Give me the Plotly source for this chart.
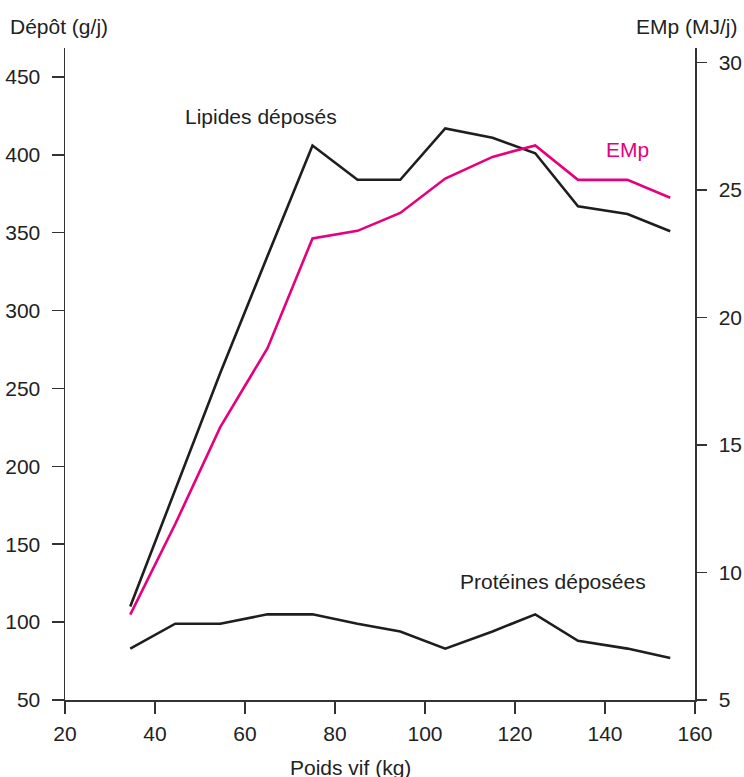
import plotly.graph_objects as go

poids = [34.5, 44.5, 54.5, 65, 75, 85, 94.5, 104.5, 115, 124.5, 134, 145, 154.5]
lipides = [110, 185, 260, 335, 406, 384, 384, 417, 411, 401, 367, 362, 351]
proteines = [83, 99, 99, 105, 105, 99, 94, 83, 94, 105, 88, 83, 77]
emp = [8.35, 11.9, 15.7, 18.8, 23.1, 23.4, 24.1, 25.45, 26.3, 26.75, 25.4, 25.4, 24.7]

FONT = "Liberation Sans, Arial, sans-serif"
TXT = "#222222"
FS = 21

fig = go.Figure()
fig.add_trace(go.Scatter(x=poids, y=lipides, mode="lines",
                         line=dict(color="#1e1e1e", width=2.6), yaxis="y"))
fig.add_trace(go.Scatter(x=poids, y=proteines, mode="lines",
                         line=dict(color="#1e1e1e", width=2.6), yaxis="y"))
fig.add_trace(go.Scatter(x=poids, y=emp, mode="lines",
                         line=dict(color="#e6007e", width=2.6), yaxis="y2"))

fig.update_layout(
    width=744, height=777,
    margin=dict(l=65, r=49, t=48, b=77, autoexpand=False),
    paper_bgcolor="white", plot_bgcolor="white",
    showlegend=False,
    font=dict(family=FONT, size=FS, color=TXT),
    xaxis=dict(range=[20, 160], tickvals=[20, 40, 60, 80, 100, 120, 140, 160],
               showgrid=False, zeroline=False, showline=True, linecolor="#333",
               linewidth=1.5, ticks="outside", ticklen=12, tickwidth=1.5,
               tickcolor="#333", tickfont=dict(size=FS, color=TXT),
               ticklabelstandoff=2),
    yaxis=dict(range=[50, 468.6], tickvals=[50, 100, 150, 200, 250, 300, 350, 400, 450],
               showgrid=False, zeroline=False, showline=True, linecolor="#333",
               linewidth=1.5, ticks="outside", ticklen=12, tickwidth=1.5,
               tickcolor="#333", tickfont=dict(size=FS, color=TXT),
               ticklabelstandoff=7),
    yaxis2=dict(range=[5, 30.57], tickvals=[5, 10, 15, 20, 25, 30],
                overlaying="y", side="right", anchor="x",
                showgrid=False, zeroline=False, showline=True, linecolor="#333",
                linewidth=1.5, ticks="outside", ticklen=10, tickwidth=1.5,
                tickcolor="#333", tickfont=dict(size=FS, color=TXT),
                ticklabelstandoff=8),
)

ann = [
    dict(text="Dépôt (g/j)", xref="paper", yref="paper", x=-0.0905, y=1.033,
         xanchor="left", yanchor="middle"),
    dict(text="EMp (MJ/j)", xref="paper", yref="paper", x=1.0714, y=1.033,
         xanchor="right", yanchor="middle"),
    dict(text="Poids vif (kg)", xref="paper", yref="paper", x=0.453, y=-0.104,
         xanchor="center", yanchor="middle"),
    dict(text="Lipides déposés", xref="x", yref="y", x=63.6, y=424.8,
         xanchor="center", yanchor="middle"),
    dict(text="Protéines déposées", xref="x", yref="y", x=128.5, y=125.8,
         xanchor="center", yanchor="middle"),
    dict(text="EMp", xref="x", yref="y", x=145.1, y=403.2,
         xanchor="center", yanchor="middle", font=dict(color="#e6007e", size=FS, family=FONT)),
]
for a in ann:
    a.setdefault("font", dict(size=FS, color=TXT, family=FONT))
    a["showarrow"] = False
    fig.add_annotation(**a)

fig.write_html("out.html",
               config={"displayModeBar": False, "staticPlot": True},
               post_script="document.body.style.margin='0px';document.body.style.overflow='hidden';")
